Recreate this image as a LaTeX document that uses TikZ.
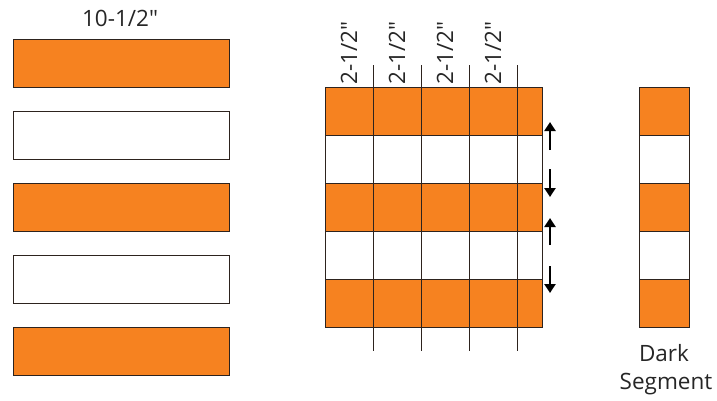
\documentclass[tikz,border=0pt]{standalone}
\usepackage{fontspec}
\setmainfont{Open Sans}
\usetikzlibrary{arrows.meta}
\definecolor{segorange}{RGB}{246,130,32}
\definecolor{edge}{RGB}{45,35,30}
\tikzset{
  stripbox/.style={draw=edge, line width=1pt, minimum width=216pt, minimum height=48pt, anchor=north west, inner sep=0pt, outer sep=0pt},
  rowbox/.style={draw=edge, line width=0.9pt, minimum width=217pt, minimum height=48pt, anchor=north west, inner sep=0pt, outer sep=0pt},
  segbox/.style={draw=edge, line width=1pt, minimum width=50pt, minimum height=48pt, anchor=north west, inner sep=0pt, outer sep=0pt},
  darkfill/.style={fill=segorange},
  lightfill/.style={fill=white},
  cutline/.style={draw=edge, line width=0.8pt},
  lbl/.style={font=\fontsize{22.5}{26}\selectfont, text=black!85, inner sep=0pt},
  vlbl/.style={lbl, rotate=90},
  movearrow/.style={-{Triangle[width=11pt,length=9pt]}, line width=2.3pt, black}
}
\begin{document}
\begin{tikzpicture}[x=1pt,y=-1pt]
\useasboundingbox (0,0) rectangle (717,400);
% left strips
\node[lbl] (title) at (120,18) {10-1/2″};
\node[stripbox,darkfill] (s1) at (13,39) {};
\node[stripbox,lightfill] (s2) at (13,111) {};
\node[stripbox,darkfill] (s3) at (13,183) {};
\node[stripbox,lightfill] (s4) at (13,255) {};
\node[stripbox,darkfill] (s5) at (13,327) {};
% sewn strip set
\node[rowbox,darkfill] (r1) at (325,87) {};
\node[rowbox,lightfill] (r2) at (325,135) {};
\node[rowbox,darkfill] (r3) at (325,183) {};
\node[rowbox,lightfill] (r4) at (325,231) {};
\node[rowbox,darkfill] (r5) at (325,279) {};
% cut lines
\foreach \x/\n in {373/1,421/2,469/3,517/4}{
  \coordinate (ct\n) at (\x,65);
  \coordinate (cb\n) at (\x,351);
  \draw[cutline] (ct\n) -- (cb\n);
}
\node[vlbl] (w1) at (349,53) {2-1/2″};
\node[vlbl] (w2) at (397,53) {2-1/2″};
\node[vlbl] (w3) at (445,53) {2-1/2″};
\node[vlbl] (w4) at (493,53) {2-1/2″};
% arrows
\coordinate (a1s) at (550,150); \coordinate (a1e) at (550,122);
\coordinate (a2s) at (550,169); \coordinate (a2e) at (550,197);
\coordinate (a3s) at (550,245); \coordinate (a3e) at (550,218);
\coordinate (a4s) at (550,266); \coordinate (a4e) at (550,293);
\draw[movearrow] (a1s) -- (a1e);
\draw[movearrow] (a2s) -- (a2e);
\draw[movearrow] (a3s) -- (a3e);
\draw[movearrow] (a4s) -- (a4e);
% dark segment
\node[segbox,darkfill] (d1) at (639,87) {};
\node[segbox,lightfill] (d2) at (639,135) {};
\node[segbox,darkfill] (d3) at (639,183) {};
\node[segbox,lightfill] (d4) at (639,231) {};
\node[segbox,darkfill] (d5) at (639,279) {};
\node[lbl] (dark) at (664,353) {Dark};
\node[lbl] (segment) at (666,384) {Segment};
\end{tikzpicture}
\end{document}
